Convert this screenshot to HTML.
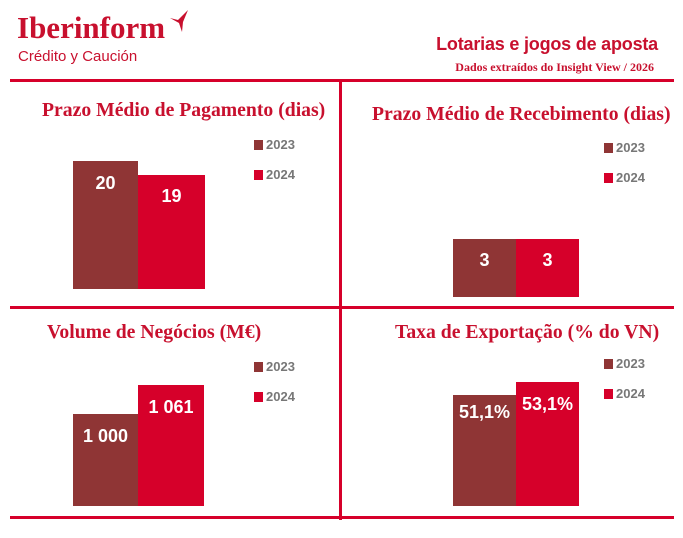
<!DOCTYPE html>
<html><head><meta charset="utf-8"><style>
body{margin:0;width:683px;height:538px;background:#fff;position:relative;overflow:hidden;font-family:"Liberation Sans",sans-serif}
.a{position:absolute}
.t{color:#c8102e;font-family:"Liberation Sans Narrow","Liberation Sans",sans-serif;font-weight:bold;white-space:nowrap}
.b{position:absolute;color:#fff;font-weight:bold;font-size:18px;text-align:center}
.c1{background:#8f3535}.c2{background:#d6002a}
.lg{position:absolute;font-size:13px;font-weight:bold;color:#777}
.lg i{display:inline-block;width:9px;height:10px;margin-right:3px;vertical-align:-1px}
</style></head><body>
<div class="a t" style="left:17px;top:10px;font-family:'Liberation Serif',serif;font-size:31px;color:#c8102e">Iberinform</div>
<svg class="a" style="left:168px;top:8px" width="24" height="26"><path d="M2 10 L10 12 L20 2 L15 14 L14 24 L11 15 L2 10Z" fill="#c8102e"/></svg>
<div class="a" style="left:18px;top:48px;font-size:15px;color:#c8102e;font-family:'Liberation Sans Narrow','Liberation Sans',sans-serif">Crédito y Caución</div>
<div class="a t" style="right:25px;top:34px;font-size:18px;letter-spacing:-0.2px">Lotarias e jogos de aposta</div>
<div class="a t" style="right:29px;top:60px;font-size:12px;font-family:'Liberation Serif',serif">Dados extraídos do Insight View / 2026</div>
<div class="a c2" style="left:10px;top:79px;width:664px;height:3px"></div>
<div class="a c2" style="left:339px;top:80px;width:3px;height:440px"></div>
<div class="a c2" style="left:10px;top:306px;width:664px;height:3px"></div>
<div class="a c2" style="left:10px;top:516px;width:664px;height:3px"></div>

<div class="a t" style="left:42px;top:99px;font-size:19.7px;font-family:'Liberation Serif',serif">Prazo Médio de Pagamento (dias)</div>
<div class="a t" style="left:372px;top:103px;font-size:19.7px;font-family:'Liberation Serif',serif">Prazo Médio de Recebimento (dias)</div>
<div class="a t" style="left:47px;top:321px;font-size:19.7px;font-family:'Liberation Serif',serif">Volume de Negócios (M€)</div>
<div class="a t" style="left:395px;top:321px;font-size:19.7px;font-family:'Liberation Serif',serif">Taxa de Exportação (% do VN)</div>

<div class="lg" style="left:254px;top:137px"><i class="c1"></i>2023</div>
<div class="lg" style="left:254px;top:167px"><i class="c2"></i>2024</div>
<div class="lg" style="left:604px;top:140px"><i class="c1"></i>2023</div>
<div class="lg" style="left:604px;top:170px"><i class="c2"></i>2024</div>
<div class="lg" style="left:254px;top:359px"><i class="c1"></i>2023</div>
<div class="lg" style="left:254px;top:389px"><i class="c2"></i>2024</div>
<div class="lg" style="left:604px;top:356px"><i class="c1"></i>2023</div>
<div class="lg" style="left:604px;top:386px"><i class="c2"></i>2024</div>

<div class="b c1" style="left:73px;top:161px;width:65px;height:128px;line-height:44px">20</div>
<div class="b c2" style="left:138px;top:175px;width:67px;height:114px;line-height:42px">19</div>
<div class="b c1" style="left:453px;top:239px;width:63px;height:58px;line-height:42px">3</div>
<div class="b c2" style="left:516px;top:239px;width:63px;height:58px;line-height:42px">3</div>
<div class="b c1" style="left:73px;top:414px;width:65px;height:92px;line-height:44px">1 000</div>
<div class="b c2" style="left:138px;top:385px;width:66px;height:121px;line-height:44px">1 061</div>
<div class="b c1" style="left:453px;top:395px;width:63px;height:111px;line-height:34px">51,1%</div>
<div class="b c2" style="left:516px;top:382px;width:63px;height:124px;line-height:44px">53,1%</div>
</body></html>
